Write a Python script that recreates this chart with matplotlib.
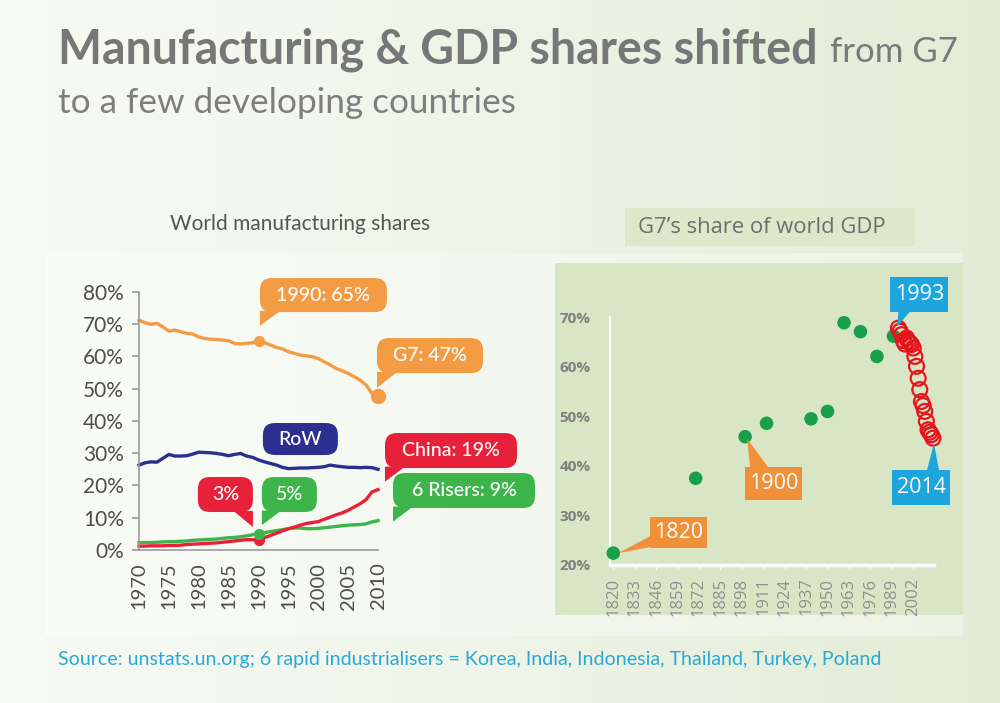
import matplotlib.pyplot as plt
import numpy as np
from matplotlib.patches import FancyBboxPatch, Polygon, Rectangle
from matplotlib.transforms import Affine2D

# Left panel: world manufacturing shares (%)
years = list(range(1970, 2011))
g7 = [71.2, 70.4, 69.9, 70.2, 69.1, 67.8, 68.1, 67.6, 67.1, 66.9,
      66.0, 65.5, 65.3, 65.2, 65.0, 64.8, 64.0, 63.8, 64.0, 64.2,
      64.8, 64.2, 63.5, 62.7, 62.3, 61.4, 60.9, 60.4, 60.1, 59.9,
      59.3, 58.3, 57.3, 56.2, 55.5, 54.7, 53.7, 52.6, 51.1, 48.5, 47.7]
row = [26.3, 27.0, 27.3, 27.2, 28.4, 29.6, 29.1, 29.1, 29.2, 29.7,
       30.3, 30.2, 30.1, 29.9, 29.6, 29.2, 29.6, 29.9, 29.1, 28.7,
       27.9, 27.3, 26.8, 26.3, 25.6, 25.2, 25.3, 25.4, 25.4, 25.5,
       25.6, 25.8, 26.3, 26.0, 25.8, 25.6, 25.6, 25.5, 25.6, 25.5, 25.0]
china = [1.2, 1.2, 1.3, 1.3, 1.3, 1.4, 1.4, 1.5, 1.7, 1.8,
         1.9, 2.0, 2.1, 2.2, 2.4, 2.6, 2.8, 3.0, 3.2, 3.2,
         3.1, 3.8, 4.5, 5.2, 5.9, 6.6, 7.1, 7.7, 8.2, 8.5,
         8.8, 9.5, 10.2, 10.9, 11.5, 12.3, 13.3, 14.3, 15.6, 18.0, 18.7]
risers = [2.3, 2.3, 2.3, 2.4, 2.5, 2.6, 2.6, 2.7, 2.8, 3.0,
          3.1, 3.2, 3.3, 3.4, 3.6, 3.8, 3.9, 4.1, 4.4, 4.7,
          5.1, 5.4, 5.7, 6.0, 6.3, 6.6, 6.8, 6.8, 6.6, 6.6,
          6.7, 6.9, 7.1, 7.3, 7.5, 7.7, 7.8, 7.9, 8.1, 8.7, 9.1]
left_yticks = [0, 10, 20, 30, 40, 50, 60, 70, 80]
left_xticks = list(range(1970, 2011, 5))

# Right panel: G7's share of world GDP (%)
hist_years = [1820, 1870, 1900, 1913, 1940, 1950, 1960, 1970, 1980, 1990]
hist_share = [22.4, 37.5, 45.9, 48.6, 49.5, 51.0, 68.9, 67.1, 62.1, 66.2]
recent_years = list(range(1993, 2015))
recent_share = [67.8, 67.2, 66.5, 65.3, 64.6, 65.8, 65.2, 64.8, 64.5, 63.8, 62.1,
                60.1, 57.7, 55.4, 53.0, 52.2, 51.0, 49.0, 47.3, 46.8, 46.3, 45.6]
right_yticks = [20, 30, 40, 50, 60, 70]
right_xticks = list(range(1820, 2003, 13))

ORANGE = '#f39c43'
NAVY = '#2b2f8f'
RED = '#e8213a'
GREEN = '#3db54b'
GDP_GREEN = '#179f4c'
GDP_RED = '#e8141c'
BOX_ORANGE = '#f0913a'
BOX_BLUE = '#1ea5dd'

W, H = 1000, 703
fig = plt.figure(figsize=(W / 100, H / 100), dpi=100)


def fx(px):
    return px / W


def fy(py):
    return 1 - py / H


# background gradient, white-ish on the left to pale green on the right
bg = fig.add_axes([0, 0, 1, 1], zorder=-10)
left_c = np.array([0.97, 0.98, 0.955])
right_c = np.array([0.885, 0.925, 0.835])
t = np.linspace(0, 1, 256) ** 1.3
grad = left_c[None, :] * (1 - t[:, None]) + right_c[None, :] * t[:, None]
grad = np.tile(grad[None, :, :], (2, 1, 1))
bg.imshow(grad, extent=[0, 1, 0, 1], aspect='auto')
bg.set_xlim(0, 1)
bg.set_ylim(0, 1)
bg.axis('off')

bg.add_patch(Rectangle((fx(45), fy(636)), fx(963) - fx(45), fy(253) - fy(636),
                       fc='white', alpha=0.35, ec='none'))
bg.add_patch(Rectangle((fx(555), fy(615)), fx(963) - fx(555), fy(263) - fy(615),
                       fc='#d9e6c5', ec='none'))
bg.add_patch(Rectangle((fx(625), fy(246)), fx(915) - fx(625), fy(208) - fy(246),
                       fc='#dce8c9', ec='none'))

fig.text(fx(58), fy(50), "Manufacturing & GDP shares shifted", fontsize=33.5,
         family='Lato', weight='bold', color='#777777', va='center')
fig.text(fx(830), fy(52), "from G7", fontsize=25, family='Lato', color='#7a7a7a', va='center')
fig.text(fx(58), fy(103), "to a few developing countries", fontsize=25.3, family='Lato',
         color='#7e7e7e', va='center')
fig.text(fx(170), fy(224), "World manufacturing shares", fontsize=15, family='Lato',
         color='#555555', va='center')
fig.text(fx(638), fy(227), "G7\u2019s share of world GDP", fontsize=15.8, family='Open Sans',
         color='#6e6e6e', va='center')
fig.text(fx(58), fy(660), "Source: unstats.un.org; 6 rapid industrialisers = Korea, India, "
         "Indonesia, Thailand, Turkey, Poland", fontsize=14.1, family='Lato',
         color='#2aa8d6', va='center')


def bubble(ax, pt, box, tail, label, color, fs, family, weight='normal', rounded=True):
    x, y = ax.transData.transform(pt)
    tr = Affine2D().translate(x, y)
    x0, x1, yb, yt = box
    style = "round,pad=0,rounding_size=12" if rounded else "square,pad=0"
    ax.add_patch(FancyBboxPatch((x0, yb), x1 - x0, yt - yb, boxstyle=style, fc=color,
                                ec='none', transform=tr, clip_on=False, zorder=5))
    if tail:
        ax.add_patch(Polygon(tail, closed=True, fc=color, ec='none', transform=tr,
                             clip_on=False, zorder=5))
    ax.text((x0 + x1) / 2, (yb + yt) / 2, label, transform=tr, ha='center', va='center',
            color='white', fontsize=fs, family=family, weight=weight, zorder=6, clip_on=False)


# ---- left chart
ax1 = fig.add_axes([fx(139), fy(550), fx(378) - fx(139), fy(291.7) - fy(550)])
ax1.set_facecolor('none')
ax1.set_xlim(1970, 2010)
ax1.set_ylim(0, 80)
for s in ['top', 'right']:
    ax1.spines[s].set_visible(False)
for s in ['left', 'bottom']:
    ax1.spines[s].set_color('#9a9a9a')
    ax1.spines[s].set_linewidth(1.2)
ax1.set_yticks(left_yticks)
ax1.set_yticklabels([f"{v}%" for v in left_yticks])
ax1.set_xticks(left_xticks)
ax1.set_xticklabels([str(v) for v in left_xticks], rotation=90)
ax1.tick_params(axis='y', length=5, width=1.2, color='#9a9a9a', pad=6,
                labelsize=15, labelcolor='#4d4d4d')
ax1.tick_params(axis='x', length=0, pad=9, labelsize=14.5, labelcolor='#4d4d4d')
for lab in ax1.get_xticklabels() + ax1.get_yticklabels():
    lab.set_family('Lato')

for series, col in [(g7, ORANGE), (row, NAVY), (risers, GREEN), (china, RED)]:
    ax1.plot(years, series, color=col, lw=2.4, clip_on=False, solid_joinstyle='round')

i90 = years.index(1990)
i10 = years.index(2010)
ax1.plot(1990, g7[i90], 'o', color=ORANGE, ms=7, clip_on=False)
ax1.plot(2010, g7[i10], 'o', color=ORANGE, ms=10, clip_on=False)
ax1.plot(1990, china[i90], 'o', color=RED, ms=7, clip_on=False)
ax1.plot(1990, risers[i90], 'o', color=GREEN, ms=7, clip_on=False)

lf = dict(fs=14, family='Lato', weight='medium')
bubble(ax1, (1990, g7[i90]), (1.4, 128.4, 28.7, 62.7),
       [(1.4, 30), (22, 30), (1.4, 15)], "1990: 65%", ORANGE, **lf)
bubble(ax1, (2010, g7[i10]), (-1, 105, 22.9, 57.9),
       [(-1, 24), (19, 24), (-1, 8)], "G7: 47%", ORANGE, **lf)
bubble(ax1, (1990, row[i90]), (4.4, 79.4, 4.9, 36.9), None, "RoW", NAVY, **lf)
bubble(ax1, (2010, china[i10]), (7, 139, 21.6, 56.6),
       [(7, 23), (27, 23), (7, 8)], "China: 19%", RED, **lf)
bubble(ax1, (2010, risers[i10]), (15, 157, 12.6, 47.6),
       [(15, 14), (35, 14), (15, -1)], "6 Risers: 9%", GREEN, **lf)
bubble(ax1, (1990, china[i90]), (-60.6, -5.6, 28, 63),
       [(-5.6, 29), (-25, 29), (-5.6, 13)], "3%", RED, **lf)
bubble(ax1, (1990, risers[i90]), (3.4, 58.4, 21.5, 56.5),
       [(3.4, 23), (23, 23), (3.4, 8.5)], "5%", GREEN, **lf)

# ---- right chart
ax2 = fig.add_axes([fx(610), fy(565), fx(933.8) - fx(610), fy(317.3) - fy(565)])
ax2.set_facecolor('none')
ax2.set_xlim(1818, 2014.5)
ax2.set_ylim(20, 70)
for s in ['top', 'right']:
    ax2.spines[s].set_visible(False)
ax2.spines['left'].set_color('white')
ax2.spines['left'].set_linewidth(1.5)
ax2.spines['bottom'].set_color('white')
ax2.spines['bottom'].set_linewidth(2.5)
ax2.set_yticks(right_yticks)
ax2.set_yticklabels([f"{v}%" for v in right_yticks])
ax2.set_xticks(right_xticks)
ax2.set_xticklabels([str(v) for v in right_xticks], rotation=90)
ax2.tick_params(axis='y', length=0, pad=14, labelsize=11, labelcolor='#7f7f7f')
ax2.tick_params(axis='x', length=3, color='white', pad=6, labelsize=12, labelcolor='#8f8f8f')
for lab in ax2.get_yticklabels():
    lab.set_weight('bold')
    lab.set_family('Open Sans')
for lab in ax2.get_xticklabels():
    lab.set_family('Open Sans')

ax2.scatter(hist_years, hist_share, s=95, color=GDP_GREEN, edgecolors='none',
            zorder=3, clip_on=False)
ax2.scatter(recent_years, recent_share, s=115, facecolors='none', edgecolors=GDP_RED,
            linewidths=1.6, zorder=4, clip_on=False)

rf = dict(fs=15.5, family='Open Sans', rounded=False)
bubble(ax2, (1820, hist_share[0]), (37, 94, 5, 36),
       [(37, 17), (37, 6), (5, 0)], "1820", BOX_ORANGE, **rf)
bubble(ax2, (1900, hist_share[2]), (0.2, 57.2, -63.2, -30.2),
       [(5, -30.5), (23, -30.5), (2, -2)], "1900", BOX_ORANGE, **rf)
bubble(ax2, (1993, recent_share[0]), (-8, 50, 16.4, 51.4),
       [(0, 17), (12, 17), (-1, 2)], "1993", BOX_BLUE, **rf)
bubble(ax2, (2014, recent_share[-1]), (-40.7, 17.3, -66.7, -31.7),
       [(-6, -32), (6, -32), (1, -5)], "2014", BOX_BLUE, **rf)

fig.savefig("out.png", dpi=100)
